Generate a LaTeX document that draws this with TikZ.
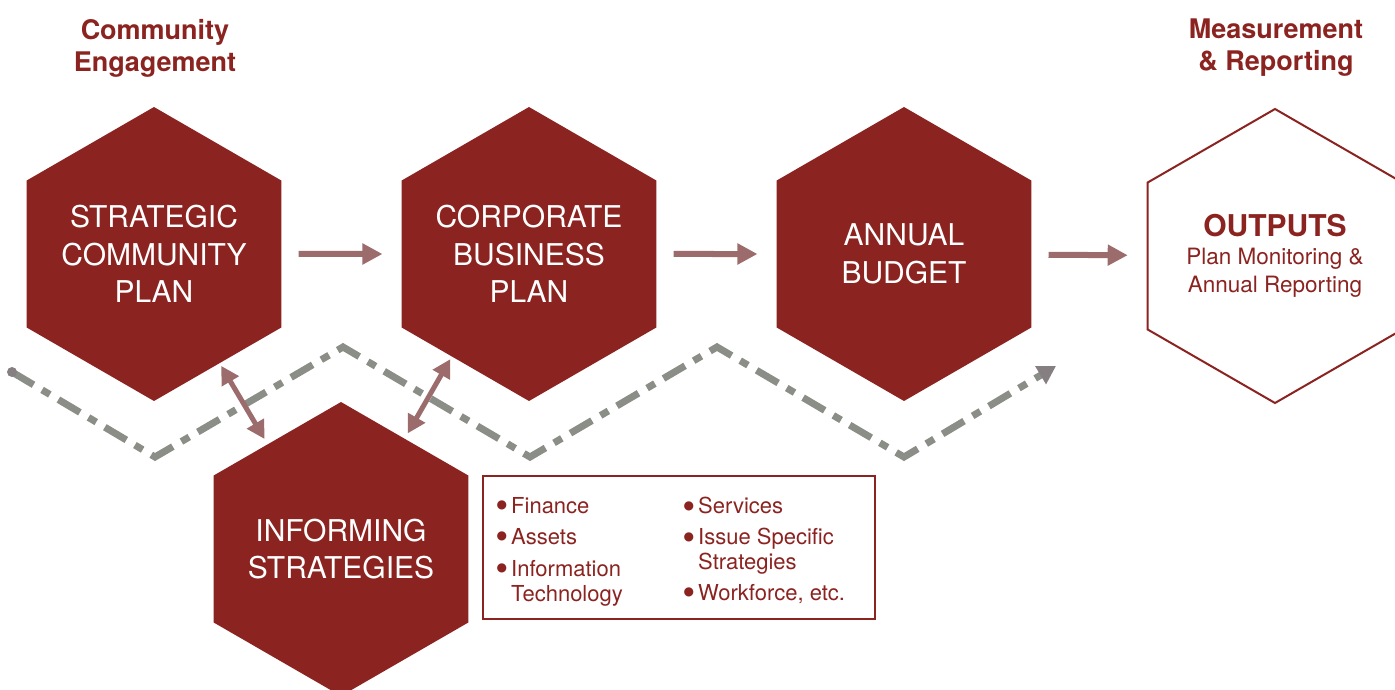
\documentclass[tikz,border=0pt]{standalone}
\usepackage{fontspec}
\setmainfont{TeX Gyre Heros}
\newfontfamily\bulfont{DejaVu Sans}
\usetikzlibrary{shapes.geometric,arrows.meta}
\definecolor{planred}{HTML}{8B2320}
\definecolor{planarrow}{HTML}{9C6B6B}
\definecolor{plangrey}{HTML}{8A8E86}
\definecolor{plandot}{HTML}{857F82}

\tikzset{
  hexa/.style={regular polygon, regular polygon sides=6, shape border rotate=30,
    minimum size=294pt, inner sep=-40pt, fill=planred, text=white, align=center,
    font=\fontsize{30}{37.5}\selectfont},
  heading/.style={text=planred, align=center, font=\bfseries\fontsize{27}{32}\selectfont},
  flow/.style={planarrow, line width=6pt, -{Triangle[length=20pt,width=20pt]}},
  link/.style={planarrow, line width=5pt, {Triangle[length=18pt,width=19pt]}-{Triangle[length=18pt,width=19pt]}},
  route/.style={plangrey, line width=7pt, dash pattern=on 25pt off 10pt on 9pt off 10pt},
  listitem/.style={text=planred, anchor=north west, inner sep=0pt, align=left,
    font=\fontsize{22}{25}\selectfont}
}
\newcommand{\bul}{\llap{\raisebox{4.5pt}{\bulfont\fontsize{12}{12}\selectfont ●}\hspace{4pt}}}

\begin{document}
\begin{tikzpicture}[x=1pt,y=-1pt]
  \useasboundingbox (0,0) rectangle (1395,689);

  % Headings
  \node[heading] (engage) at (155,48) {Community\\Engagement};
  \node[heading] (measure) at (1276,48) {Measurement\\\& Reporting};

  % Hexagons
  \foreach \n/\x/\t in {1/154/{STRATEGIC\\COMMUNITY\\PLAN}, 2/529/{CORPORATE\\BUSINESS\\PLAN}, 3/904/{ANNUAL\\BUDGET}} {
    \node[hexa] (hex\n) at (\x,254) {\t};
  }
  \node[hexa] (inform) at (341,549) {INFORMING\\STRATEGIES};
  \node[hexa, fill=white, draw=planred, line width=2pt, text=planred,
    font=\fontsize{22.5}{28}\selectfont] (out) at (1275,256)
    {{\bfseries\fontsize{30}{30}\selectfont OUTPUTS}\\Plan Monitoring \&\\Annual Reporting};

  % Route through the plans
  \coordinate (r0) at (12,372);
  \coordinate (r1) at (155,457);
  \coordinate (r2) at (343,347);
  \coordinate (r3) at (530,457);
  \coordinate (r4) at (717,347);
  \coordinate (r5) at (904,457);
  \coordinate (r6) at (1056,366);
  \draw[route, -{Triangle[length=18pt,width=20pt,color=plandot]}]
    (r0) -- (r1) -- (r2) -- (r3) -- (r4) -- (r5) -- (r6);
  \fill[plandot] (r0) circle (5pt);

  % Arrows
  \foreach \a/\b in {hex1/hex2, hex2/hex3, hex3/out} {
    \draw[flow, shorten <=17pt, shorten >=19pt] (\a) -- (\b);
  }
  \draw[link, shorten <=3pt, shorten >=6pt] (hex1.-59) -- (inform.125);
  \draw[link, shorten <=3pt, shorten >=6pt] (hex2.-127) -- (inform.60);

  % Informing strategies list
  \node[draw=planred, line width=2pt, minimum width=392pt, minimum height=143pt] (list) at (679,547.5) {};
  \node[listitem] (fin) at (511,497) {\bul Finance};
  \node[listitem] (ast) at (511,528) {\bul Assets};
  \node[listitem] (ict) at (511,560) {\bul Information\\Technology};
  \node[listitem] (srv) at (698,497) {\bul Services};
  \node[listitem] (iss) at (698,528) {\bul Issue Specific\\Strategies};
  \node[listitem] (wrk) at (698,584) {\bul Workforce, etc.};
\end{tikzpicture}
\end{document}
